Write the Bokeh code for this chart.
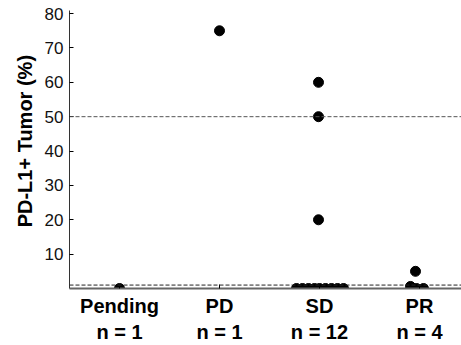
from bokeh.plotting import figure
from bokeh.models import FixedTicker, Span, Range1d, ColumnDataSource
from bokeh.embed import file_html
from bokeh.resources import INLINE

# Data
categories = ["Pending", "PD", "SD", "PR"]
counts = ["n = 1", "n = 1", "n = 12", "n = 4"]
pending_vals = [0]
pd_vals = [75]
sd_vals = [60, 50, 20, 0, 0, 0, 0, 0, 0, 0, 0, 0]
pr_vals = [5, 0.6, 0, 0]
# horizontal jitter (category units) as seen in the picture
pending_jit = [0.0]
pd_jit = [0.0]
sd_jit = [-0.01, -0.01, -0.01, -0.23, -0.17, -0.11, -0.05, 0.0, 0.06, 0.12, 0.18, 0.24]
pr_jit = [-0.04, -0.09, -0.03, 0.04]
ref_lines = [50, 1]
y_ticks = [10, 20, 30, 40, 50, 60, 70, 80]

xs, ys = [], []
for i, (vals, jit) in enumerate([(pending_vals, pending_jit), (pd_vals, pd_jit),
                                  (sd_vals, sd_jit), (pr_vals, pr_jit)]):
    for v, j in zip(vals, jit):
        xs.append(i + 1 + j)
        ys.append(v)
src = ColumnDataSource(dict(x=xs, y=ys))

p = figure(width=461, height=345, output_backend="svg", toolbar_location=None,
           x_range=Range1d(0.5, 4.42), y_range=Range1d(0, 80.9),
           min_border_left=69, min_border_top=10, min_border_bottom=56, min_border_right=0)
p.outline_line_color = None
p.xgrid.visible = False
p.ygrid.visible = False

for val, col in zip(ref_lines, ["#555555", "#222222"]):
    p.add_layout(Span(location=val, dimension="width", line_color=col,
                      line_dash="4 2", line_width=1))

p.scatter("x", "y", source=src, size=10, color="black")

# y axis
p.yaxis.ticker = FixedTicker(ticks=y_ticks)
p.yaxis.axis_label = "\u00a0\u00a0\u00a0PD-L1+ Tumor (%)"
p.yaxis.axis_label_text_font = "Liberation Sans"
p.yaxis.axis_label_text_font_style = "bold"
p.yaxis.axis_label_text_font_size = "20px"
p.yaxis.axis_label_text_color = "black"
p.yaxis.axis_label_standoff = 6
p.yaxis.major_label_text_font = "Liberation Sans"
p.yaxis.major_label_text_font_size = "17px"
p.yaxis.major_label_text_color = "#111111"
p.yaxis.major_label_standoff = 6
p.yaxis.major_tick_in = 4
p.yaxis.major_tick_out = 0
p.yaxis.minor_tick_line_color = None
p.yaxis.axis_line_color = "#333333"

# x axis
p.xaxis.ticker = FixedTicker(ticks=[1, 2, 3, 4])
p.xaxis.major_label_overrides = {i + 1: f"{c}\n{n}" for i, (c, n) in enumerate(zip(categories, counts))}
p.xaxis.major_label_text_font = "Liberation Sans"
p.xaxis.major_label_text_font_style = "bold"
p.xaxis.major_label_text_font_size = "20px"
p.xaxis.major_label_text_color = "black"
p.xaxis.major_label_text_line_height = 1.2
p.xaxis.major_label_standoff = 6
p.xaxis.major_tick_in = 4
p.xaxis.major_tick_out = 0
p.xaxis.minor_tick_line_color = None
p.xaxis.axis_line_color = "#666666"
p.xaxis.axis_line_width = 2

open("out.html", "w").write(file_html(p, INLINE))
